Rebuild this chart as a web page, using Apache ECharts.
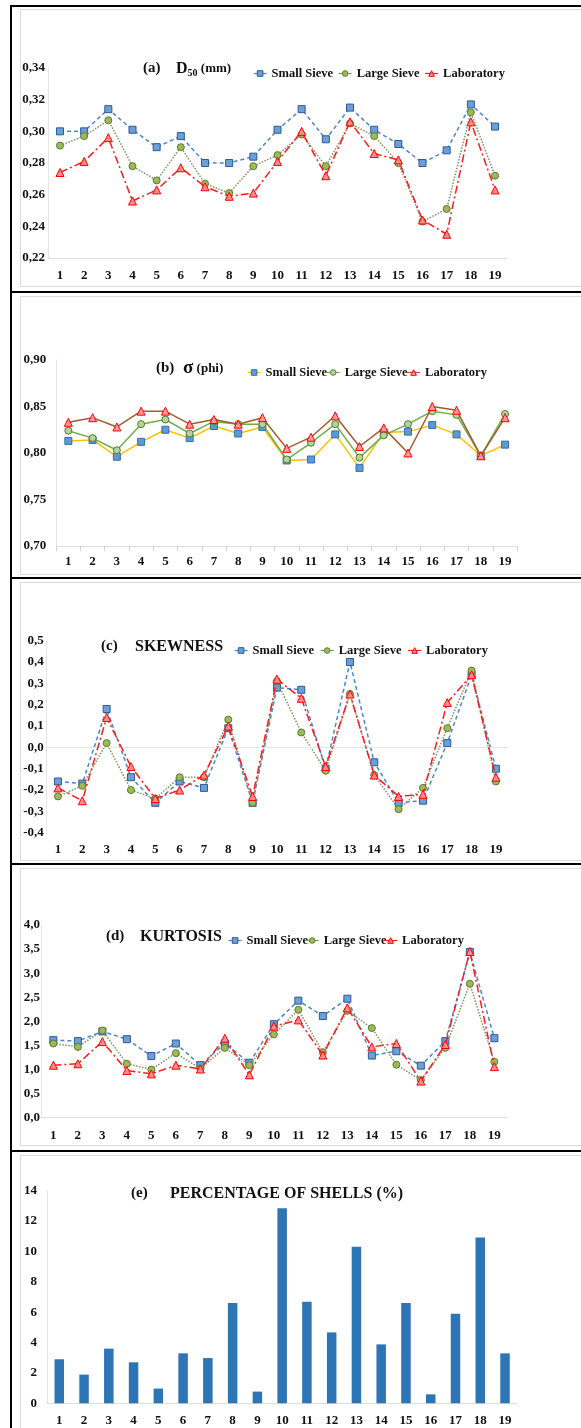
<!DOCTYPE html>
<html>
<head>
<meta charset="utf-8">
<script src="https://cdn.jsdelivr.net/npm/echarts@6/dist/echarts.min.js"></script>
<style>
  html, body { margin: 0; padding: 0; background: #fff; }
  #wrap { position: relative; width: 581px; height: 1428px; overflow: hidden; background: #fff; }
  .hline { position: absolute; left: 10px; width: 600px; height: 2px; background: #000; }
  .vline { position: absolute; left: 10px; top: 5px; width: 2px; height: 1430px; background: #000; }
  .inner { position: absolute; left: 20px; width: 600px; border: 1px solid #dcdcdc; box-sizing: border-box; }
  #chart { position: absolute; left: 0; top: 0; width: 581px; height: 1428px; }
</style>
</head>
<body>
<div id="wrap">
  <div class="inner" style="top:9px;height:278px"></div>
  <div class="inner" style="top:296px;height:279px"></div>
  <div class="inner" style="top:582px;height:279px"></div>
  <div class="inner" style="top:868px;height:278px"></div>
  <div class="inner" style="top:1155px;height:300px"></div>
  <div class="hline" style="top:5px"></div>
  <div class="hline" style="top:291px"></div>
  <div class="hline" style="top:577px"></div>
  <div class="hline" style="top:863px"></div>
  <div class="hline" style="top:1150px"></div>
  <div class="vline"></div>
  <div id="chart"></div>
</div>
<script>
// ---------------- data ----------------
const categories = ['1','2','3','4','5','6','7','8','9','10','11','12','13','14','15','16','17','18','19'];
const seriesNames = ['Small Sieve', 'Large Sieve', 'Laboratory'];

const d50Small = [0.300,0.300,0.314,0.301,0.290,0.297,0.280,0.280,0.284,0.301,0.314,0.295,0.315,0.301,0.292,0.280,0.288,0.317,0.303];
const d50Large = [0.291,0.297,0.307,0.278,0.269,0.290,0.267,0.261,0.278,0.285,0.298,0.278,0.305,0.297,0.280,0.243,0.251,0.312,0.272];
const d50Lab   = [0.274,0.281,0.296,0.256,0.263,0.277,0.265,0.259,0.261,0.281,0.300,0.272,0.306,0.286,0.282,0.244,0.235,0.306,0.263];

const sigmaSmall = [0.813,0.814,0.796,0.812,0.825,0.816,0.829,0.821,0.828,0.792,0.793,0.820,0.784,0.822,0.823,0.830,0.820,0.797,0.809];
const sigmaLarge = [0.824,0.816,0.803,0.831,0.836,0.821,0.834,0.831,0.831,0.793,0.811,0.831,0.795,0.819,0.831,0.845,0.841,0.797,0.842];
const sigmaLab   = [0.833,0.838,0.828,0.845,0.845,0.831,0.836,0.831,0.838,0.805,0.817,0.840,0.807,0.827,0.800,0.850,0.846,0.797,0.838];

const skewSmall = [-0.16,-0.17,0.18,-0.14,-0.26,-0.16,-0.19,0.09,-0.26,0.28,0.27,-0.10,0.40,-0.07,-0.26,-0.25,0.02,0.34,-0.10];
const skewLarge = [-0.23,-0.18,0.02,-0.20,-0.24,-0.14,-0.14,0.13,-0.26,0.31,0.07,-0.11,0.25,-0.13,-0.29,-0.19,0.09,0.36,-0.16];
const skewLab   = [-0.19,-0.25,0.14,-0.09,-0.24,-0.20,-0.13,0.10,-0.23,0.32,0.23,-0.09,0.25,-0.13,-0.23,-0.22,0.21,0.34,-0.14];

const kurtSmall = [1.61,1.59,1.79,1.63,1.28,1.54,1.09,1.54,1.14,1.94,2.43,2.11,2.47,1.29,1.38,1.08,1.59,3.44,1.65];
const kurtLarge = [1.54,1.47,1.81,1.12,1.00,1.34,1.02,1.45,1.09,1.73,2.24,1.36,2.22,1.86,1.10,0.78,1.45,2.78,1.16];
const kurtLab   = [1.09,1.12,1.58,0.98,0.91,1.09,1.01,1.65,0.89,1.90,2.03,1.30,2.28,1.47,1.54,0.76,1.52,3.45,1.06];

const shells = [2.90,1.89,3.60,2.70,0.97,3.29,2.98,6.61,0.77,12.84,6.69,4.67,10.31,3.88,6.61,0.59,5.90,10.91,3.29];

// ---------------- styles ----------------
const FONT = 'Liberation Serif, Times New Roman, serif';
const styleA = [
  { line: { color: '#4a86c8', width: 1.5, type: [4, 3] }, item: { color: '#6a9fd8', borderColor: '#2c5a96', borderWidth: 1 }, symbol: 'rect', size: 7 },
  { line: { color: '#7f9160', width: 1.5, type: [1.5, 1.5] }, item: { color: '#9bbb59', borderColor: '#5d7a2e', borderWidth: 1 }, symbol: 'circle', size: 7 },
  { line: { color: '#ff1a1a', width: 1.5, type: [8, 3, 2, 3] }, item: { color: '#ff8c8c', borderColor: '#ff0000', borderWidth: 1 }, symbol: 'triangle', size: 8 }
];
const styleB = [
  { line: { color: '#ffc000', width: 1.5, type: 'solid' }, item: { color: '#5b9bd5', borderColor: '#3a6ea5', borderWidth: 1 }, symbol: 'rect', size: 7 },
  { line: { color: '#70ad47', width: 1.5, type: 'solid' }, item: { color: '#b5d39a', borderColor: '#4e7d2e', borderWidth: 1 }, symbol: 'circle', size: 7 },
  { line: { color: '#a55a2a', width: 1.5, type: 'solid' }, item: { color: '#ff9a9a', borderColor: '#ff0000', borderWidth: 1 }, symbol: 'triangle', size: 8 }
];

// panel geometry
const panels = [
  { grid: { left: 47.9, top: 68,    width: 459.2, height: 190 },   min: 0.22, max: 0.34, interval: 0.02, dec: 2, lm: 3,  xm: 11.5 },
  { grid: { left: 56.2, top: 360,   width: 461,   height: 186 },   min: 0.70, max: 0.90, interval: 0.05, dec: 2, lm: 10, xm: 9 },
  { grid: { left: 45.8, top: 640.7, width: 462.3, height: 192 },   min: -0.4, max: 0.5,  interval: 0.1,  dec: 1, lm: 2,  xm: 10 },
  { grid: { left: 41.1, top: 925,   width: 465.5, height: 192.7 }, min: 0,    max: 4,    interval: 0.5,  dec: 1, lm: 1,  xm: 11 },
  { grid: { left: 46.9, top: 1190.7,width: 470.5, height: 212.6 }, min: 0,    max: 14,   interval: 2,    dec: 0, lm: 10, xm: 11 }
];

const lineData = [
  [d50Small, d50Large, d50Lab],
  [sigmaSmall, sigmaLarge, sigmaLab],
  [skewSmall, skewLarge, skewLab],
  [kurtSmall, kurtLarge, kurtLab]
];
const lineStyles = [styleA, styleB, styleA, styleA];

const grids = [], xAxes = [], yAxes = [], series = [], legends = [], titles = [];

panels.forEach((p, i) => {
  grids.push(Object.assign({ containLabel: false }, p.grid));
  xAxes.push({
    type: 'category', gridIndex: i, data: categories, boundaryGap: true,
    axisLine: { show: i !== 2, onZero: false, lineStyle: { color: '#dedede', width: 1 } },
    axisTick: { show: i === 1, length: 5, lineStyle: { color: '#d0d0d0' } },
    axisLabel: { interval: 0, margin: p.xm, color: '#111', fontFamily: FONT, fontWeight: 'bold', fontSize: 13 }
  });
  yAxes.push({
    type: 'value', gridIndex: i, min: p.min, max: p.max, interval: p.interval,
    axisLine: { show: true, lineStyle: { color: '#e4e4e4', width: 1 } },
    axisTick: { show: false },
    splitLine: { show: false },
    axisLabel: {
      margin: p.lm, color: '#111', fontFamily: FONT, fontWeight: 'bold', fontSize: 13,
      formatter: v => v.toFixed(p.dec).replace('.', ',')
    }
  });
});

lineData.forEach((group, i) => {
  group.forEach((vals, k) => {
    const st = lineStyles[i][k];
    const s = {
      type: 'line', name: seriesNames[k], xAxisIndex: i, yAxisIndex: i, data: vals,
      symbol: st.symbol, symbolSize: st.size, showSymbol: true,
      lineStyle: st.line, itemStyle: st.item, z: 3 + k,
      emphasis: { disabled: true }, animation: false
    };
    if (i === 2 && k === 0) {
      s.markLine = {
        silent: true, symbol: 'none', label: { show: false },
        lineStyle: { color: '#e6e6e6', type: 'solid', width: 1 },
        data: [{ yAxis: 0 }]
      };
    }
    series.push(s);
  });
});

series.push({
  type: 'bar', name: 'Shells', xAxisIndex: 4, yAxisIndex: 4, data: shells,
  barWidth: 9.5, itemStyle: { color: '#2e75b6' }, animation: false
});

// legends
const legendPos = [
  { left: 248, top: 62, gap: 5 },
  { left: 242, top: 361, gap: -1 },
  { left: 229, top: 639, gap: 6 },
  { left: 223, top: 929, gap: -3 }
];
legendPos.forEach((lp, i) => {
  legends.push({
    left: lp.left, top: lp.top, itemGap: lp.gap, itemWidth: 13, itemHeight: 7,
    selectedMode: false,
    textStyle: { fontFamily: FONT, fontWeight: 'bold', fontSize: 12.5, color: '#111' },
    data: seriesNames.map((n, k) => ({
      name: n,
      itemStyle: lineStyles[i][k].item,
      lineStyle: { color: lineStyles[i][k].line.color, width: 1.2, type: 'solid' }
    }))
  });
});

// titles
const tStyle = { fontFamily: FONT, fontWeight: 'bold', color: '#111' };
const addTitle = (text, left, top, rich, fontSize) => {
  titles.push({ text, left, top, padding: 0,
    textStyle: Object.assign({ fontSize: fontSize || 15, rich }, tStyle) });
};
const rich = {
  big: Object.assign({ fontSize: 16 }, tStyle),
  sub: Object.assign({ fontSize: 10, padding: [8, 0, 0, 0] }, tStyle),
  sm: Object.assign({ fontSize: 13 }, tStyle),
  sig: Object.assign({ fontSize: 19 }, tStyle)
};
addTitle('(a)', 143, 61, null, 15);
addTitle('{big|D}{sub|50}{sm| (mm)}', 176, 60, rich);
addTitle('(b)', 156, 361, null, 15);
addTitle('{sig|σ}{sm| (phi)}', 183, 359, rich);
addTitle('(c)', 101, 639, null, 15);
addTitle('SKEWNESS', 135, 639, null, 16);
addTitle('(d)', 106, 929, null, 15);
addTitle('KURTOSIS', 140, 929, null, 16);
addTitle('(e)', 131, 1186, null, 15);
addTitle('PERCENTAGE OF SHELLS (%)', 170, 1186, null, 16);

const chart = echarts.init(document.getElementById('chart'), null, { renderer: 'canvas' });
chart.setOption({
  animation: false,
  backgroundColor: 'transparent',
  title: titles,
  legend: legends,
  grid: grids,
  xAxis: xAxes,
  yAxis: yAxes,
  series: series
});
</script>
</body>
</html>
